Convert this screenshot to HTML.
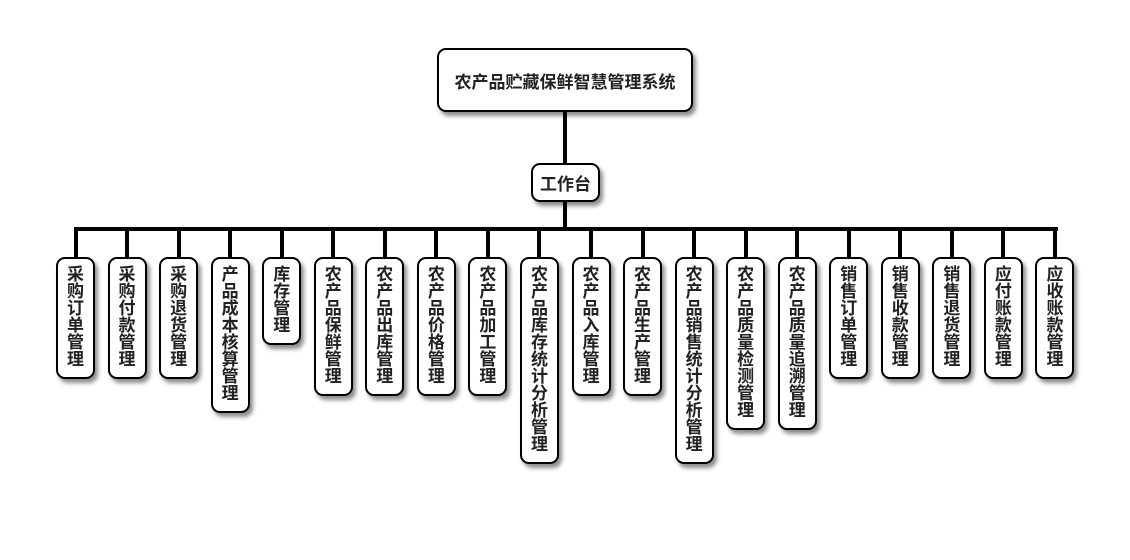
<!DOCTYPE html>
<html><head><meta charset="utf-8"><style>
body{margin:0;width:1130px;height:560px;background:#fff;position:relative;overflow:hidden;font-family:"Liberation Sans","Noto Sans CJK SC",sans-serif;font-weight:bold;color:#222}
.b{position:absolute;box-sizing:border-box;border:2.5px solid #000;border-radius:9px;background:#fff;box-shadow:3px 4px 4px rgba(0,0,0,.45);display:flex;align-items:center;justify-content:center;font-size:17px}
.v{display:block;padding-top:7px}
.v span{display:block;width:17px;margin:0 auto;line-height:17px;font-size:17px;text-align:center;word-break:break-all}
.l{position:absolute;background:#000}
</style></head><body>
<div class="l" style="left:563px;top:110px;width:4px;height:55px"></div>
<div class="l" style="left:563px;top:200px;width:4px;height:30px"></div>
<div class="l" style="left:73.5px;top:227px;width:984px;height:4px"></div>
<div class="b" style="left:437px;top:48px;width:256px;height:64px">农产品贮藏保鲜智慧管理系统</div>
<div class="b" style="left:531px;top:163px;width:69px;height:39px">工作台</div>
<div id="c"></div>
<script>
var t=["采购订单管理","采购付款管理","采购退货管理","产品成本核算管理","库存管理","农产品保鲜管理","农产品出库管理","农产品价格管理","农产品加工管理","农产品库存统计分析管理","农产品入库管理","农产品生产管理","农产品销售统计分析管理","农产品质量检测管理","农产品质量追溯管理","销售订单管理","销售收款管理","销售退货管理","应付账款管理","应收账款管理"];
var h="";
for(var i=0;i<t.length;i++){var cx=75.5+i*51.55;var n=t[i].length;
h+='<div class="l" style="left:'+(cx-2)+'px;top:229px;width:4px;height:29px"></div>';
h+='<div class="b v" style="left:'+(cx-19.5)+'px;top:257px;width:39px;height:'+(n*17+20)+'px"><span>'+t[i]+'</span></div>';}
document.getElementById("c").innerHTML=h;
</script>
</body></html>
